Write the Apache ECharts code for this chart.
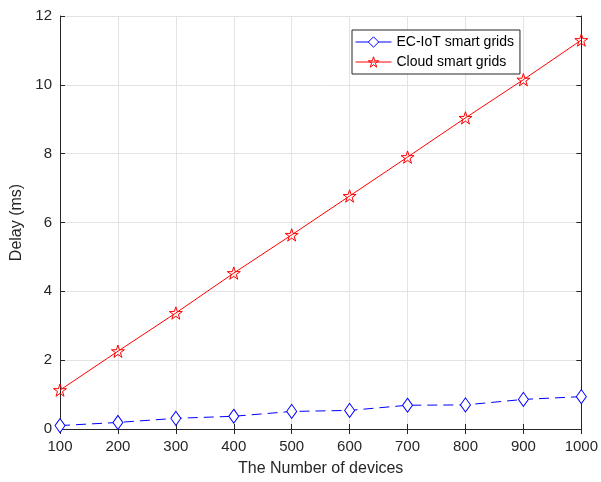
<!DOCTYPE html>
<html>
<head>
<meta charset="utf-8">
<script src="https://cdn.jsdelivr.net/npm/echarts@6/dist/echarts.min.js"></script>
<style>
html, body { margin: 0; padding: 0; background: #fff; }
#main { width: 601px; height: 482px; }
</style>
</head>
<body>
<div id="main"></div>
<script>
// number of devices
var devices = [100, 200, 300, 400, 500, 600, 700, 800, 900, 1000]
// delay (ms)
var ecIotDelay = [0.10, 0.19, 0.31, 0.37, 0.51, 0.54, 0.69, 0.70, 0.86, 0.94]
var cloudDelay = [1.13, 2.26, 3.37, 4.53, 5.64, 6.77, 7.90, 9.04, 10.15, 11.30]
var seriesNames = ['EC-IoT smart grids', 'Cloud smart grids']

var starPath = 'path://M100,0 L122.34,69.26 L195.11,69.1 L136.14,111.74 L158.78,180.9 L100,138 L41.22,180.9 L63.86,111.74 L4.89,69.1 L77.66,69.26 Z'

function pairs (xs, ys) {
    var out = []
    for (var i = 0; i < xs.length; i++) out.push([xs[i], ys[i]])
    return out
}

var font = 'Liberation Sans, Arial, sans-serif'
var myChart = echarts.init(document.getElementById('main'), null, { renderer: 'canvas' })

var axisLine = { show: true, lineStyle: { color: '#262626', width: 1 } }
var axisTick = { show: true, inside: true, length: 5, lineStyle: { color: '#262626' } }
var splitLine = { show: true, lineStyle: { color: '#e3e3e3', width: 1 } }

var option = {
    animation: false,
    backgroundColor: '#fff',
    grid: { left: 60, right: 19, top: 16, bottom: 53 },
    legend: {
        orient: 'vertical',
        left: 352,
        top: 30,
        padding: [5, 6, 5, 3],
        itemGap: 6,
        itemWidth: 36,
        itemHeight: 13,
        borderColor: '#262626',
        borderWidth: 1,
        backgroundColor: '#fff',
        textStyle: { color: '#000', fontSize: 14, fontFamily: font },
        data: [{
            name: seriesNames[0],
            itemStyle: { color: '#fff', borderColor: '#0000ff', borderWidth: 1 },
            lineStyle: { color: '#0000ff', width: 1, type: 'solid' }
        }, {
            name: seriesNames[1],
            itemStyle: { color: 'rgba(255,255,255,0)', borderColor: '#ff0000', borderWidth: 1 },
            lineStyle: { color: '#ff0000', width: 1, type: 'solid' }
        }]
    },
    xAxis: [{
        type: 'value',
        min: 100,
        max: 1000,
        interval: 100,
        name: 'The Number of devices',
        nameLocation: 'middle',
        nameGap: 32,
        nameTextStyle: { color: '#262626', fontSize: 16, fontFamily: font },
        axisLine: axisLine,
        axisTick: axisTick,
        splitLine: splitLine,
        axisLabel: {
            color: '#262626', fontSize: 15, fontFamily: font, margin: 10,
            formatter: function (v) { return String(v) }
        }
    }, {
        type: 'value',
        position: 'top',
        min: 100,
        max: 1000,
        interval: 100,
        axisLine: axisLine,
        axisTick: axisTick,
        splitLine: { show: false },
        axisLabel: { show: false }
    }],
    yAxis: [{
        type: 'value',
        min: 0,
        max: 12,
        interval: 2,
        name: 'Delay (ms)',
        nameLocation: 'middle',
        nameGap: 29,
        nameTextStyle: { color: '#262626', fontSize: 16, fontFamily: font },
        axisLine: axisLine,
        axisTick: axisTick,
        splitLine: splitLine,
        axisLabel: { color: '#262626', fontSize: 15, fontFamily: font, margin: 8 }
    }, {
        type: 'value',
        position: 'right',
        min: 0,
        max: 12,
        interval: 2,
        axisLine: axisLine,
        axisTick: axisTick,
        splitLine: { show: false },
        axisLabel: { show: false }
    }],
    series: [{
        name: seriesNames[0],
        type: 'line',
        data: pairs(devices, ecIotDelay),
        symbol: 'diamond',
        symbolSize: [10, 14],
        itemStyle: { color: '#fff', borderColor: '#0000ff', borderWidth: 1 },
        lineStyle: { color: '#0000ff', width: 1, type: [10, 6] },
        z: 3
    }, {
        name: seriesNames[1],
        type: 'line',
        data: pairs(devices, cloudDelay),
        symbol: starPath,
        symbolKeepAspect: true,
        symbolSize: 13,
        itemStyle: { color: 'rgba(255,255,255,0)', borderColor: '#ff0000', borderWidth: 1 },
        lineStyle: { color: '#ff0000', width: 1 },
        z: 3
    }]
}

myChart.setOption(option)
</script>
</body>
</html>
